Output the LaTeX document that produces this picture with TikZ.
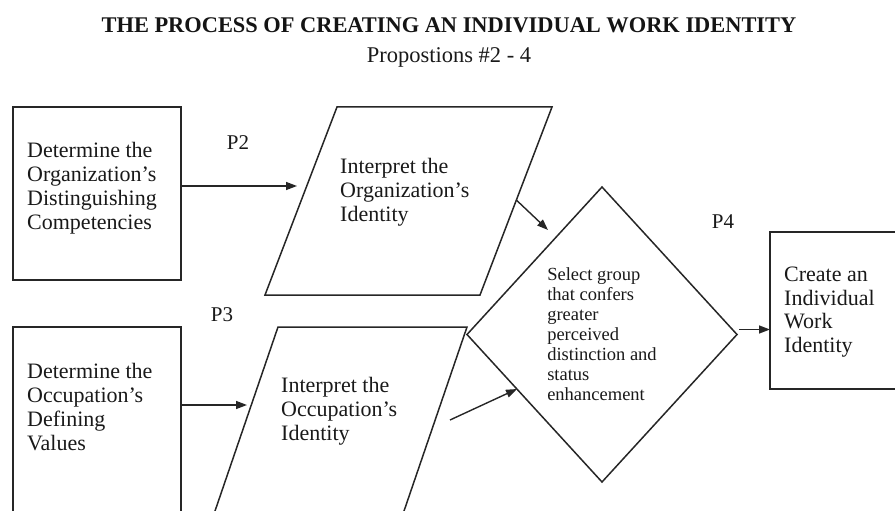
\documentclass[tikz,border=0pt]{standalone}
\usepackage{fontspec}
\setmainfont{Liberation Serif}
\usetikzlibrary{arrows.meta,shapes.geometric,calc}
\begin{document}
\begin{tikzpicture}[x=1pt,y=-1pt,
  ink/.style={draw=black!85,line width=1.5pt},
  stepbox/.style={ink,rectangle,inner sep=0pt,outer sep=0pt},
  boxtext/.style={align=left,inner sep=0pt,anchor=west,text=black!90,
    font=\fontsize{22}{24}\selectfont},
  smalltext/.style={align=left,inner sep=0pt,text=black!90,
    font=\fontsize{18.5}{20}\selectfont},
  proplabel/.style={inner sep=0pt,text=black!90,font=\fontsize{21}{24}\selectfont},
  flow/.style={draw=black!85,line width=1.4pt,-{Triangle[length=11pt,width=8pt]}}
]
\useasboundingbox (0,0) rectangle (895,511);

% heading
\node[anchor=base,font=\bfseries\fontsize{22.4}{26}\selectfont,text=black!92]
  (title) at (449,33) {THE PROCESS OF CREATING AN INDIVIDUAL WORK IDENTITY};
\node[anchor=base,font=\fontsize{22.5}{26}\selectfont,text=black!90]
  (subtitle) at (449,63) {Propostions \#2 - 4};

\begin{scope}
\clip (0,0) rectangle (895,511);

% left-hand boxes
\node[stepbox,minimum width=168pt,minimum height=173pt] (org) at (97,193.5) {};
\node[boxtext] (orgtext) at (27,188.5)
  {Determine the\\Organization's\\Distinguishing\\Competencies};

\node[stepbox,minimum width=168pt,minimum height=203pt,anchor=north west]
  (occ) at (13,327) {};
\node[boxtext] (occtext) at (27,407)
  {Determine the\\Occupation's\\Defining\\Values};

% interpretation parallelograms
\coordinate (p1bl) at (265,295);
\coordinate (p1tl) at (337,107);
\coordinate (p1tr) at (552,107);
\coordinate (p1br) at (480,295);
\draw[ink,line join=miter] (p1bl) -- (p1tl) -- (p1tr) -- (p1br) -- cycle;
\node[boxtext] (p1text) at (340,192)
  {Interpret the\\Organization's\\Identity};

\coordinate (p2tl) at (278,327);
\coordinate (p2tr) at (467,327);
\coordinate (p2br) at (397.5,530);
\coordinate (p2bl) at (208.5,530);
\draw[ink,line join=miter] (p2bl) -- (p2tl) -- (p2tr) -- (p2br) -- cycle;
\node[boxtext] (p2text) at (281,411)
  {Interpret the\\Occupation's\\Identity};

% selection diamond
\node[ink,diamond,inner sep=0pt,outer sep=0pt,minimum width=270pt,
  minimum height=295pt,smalltext] (sel) at (602,334.5)
  {Select group\\that confers\\greater\\perceived\\distinction and\\status\\enhancement};

% outcome box
\node[stepbox,minimum width=140pt,minimum height=157pt] (work) at (840,310.5) {};
\node[boxtext,font=\fontsize{22}{23.5}\selectfont] (worktext) at (784,312)
  {Create an\\Individual\\Work\\Identity};

% connector end points
\coordinate (e2) at (297,186);
\coordinate (e3) at (247,405);
\coordinate (s1) at ($(p1br)!0.505!(p1tr)$);
\coordinate (e1) at (548,230);
\coordinate (s2) at (450,420);
\coordinate (e4) at (517,389);
\coordinate (s4) at ($(sel.east)+(2,-5)$);

% connectors
\draw[flow] (org.east |- e2) -- (e2);
\draw[flow] (occ.east |- e3) -- (e3);
\draw[flow] (s1) -- (e1);
\draw[flow] (s2) -- (e4);
\draw[flow] (s4) -- (s4 -| work.west);

% proposition labels
\node[proplabel] (P2) at (238,143) {P2};
\node[proplabel] (P3) at (222,315) {P3};
\node[proplabel] (P4) at (723,222) {P4};
\end{scope}
\end{tikzpicture}
\end{document}
